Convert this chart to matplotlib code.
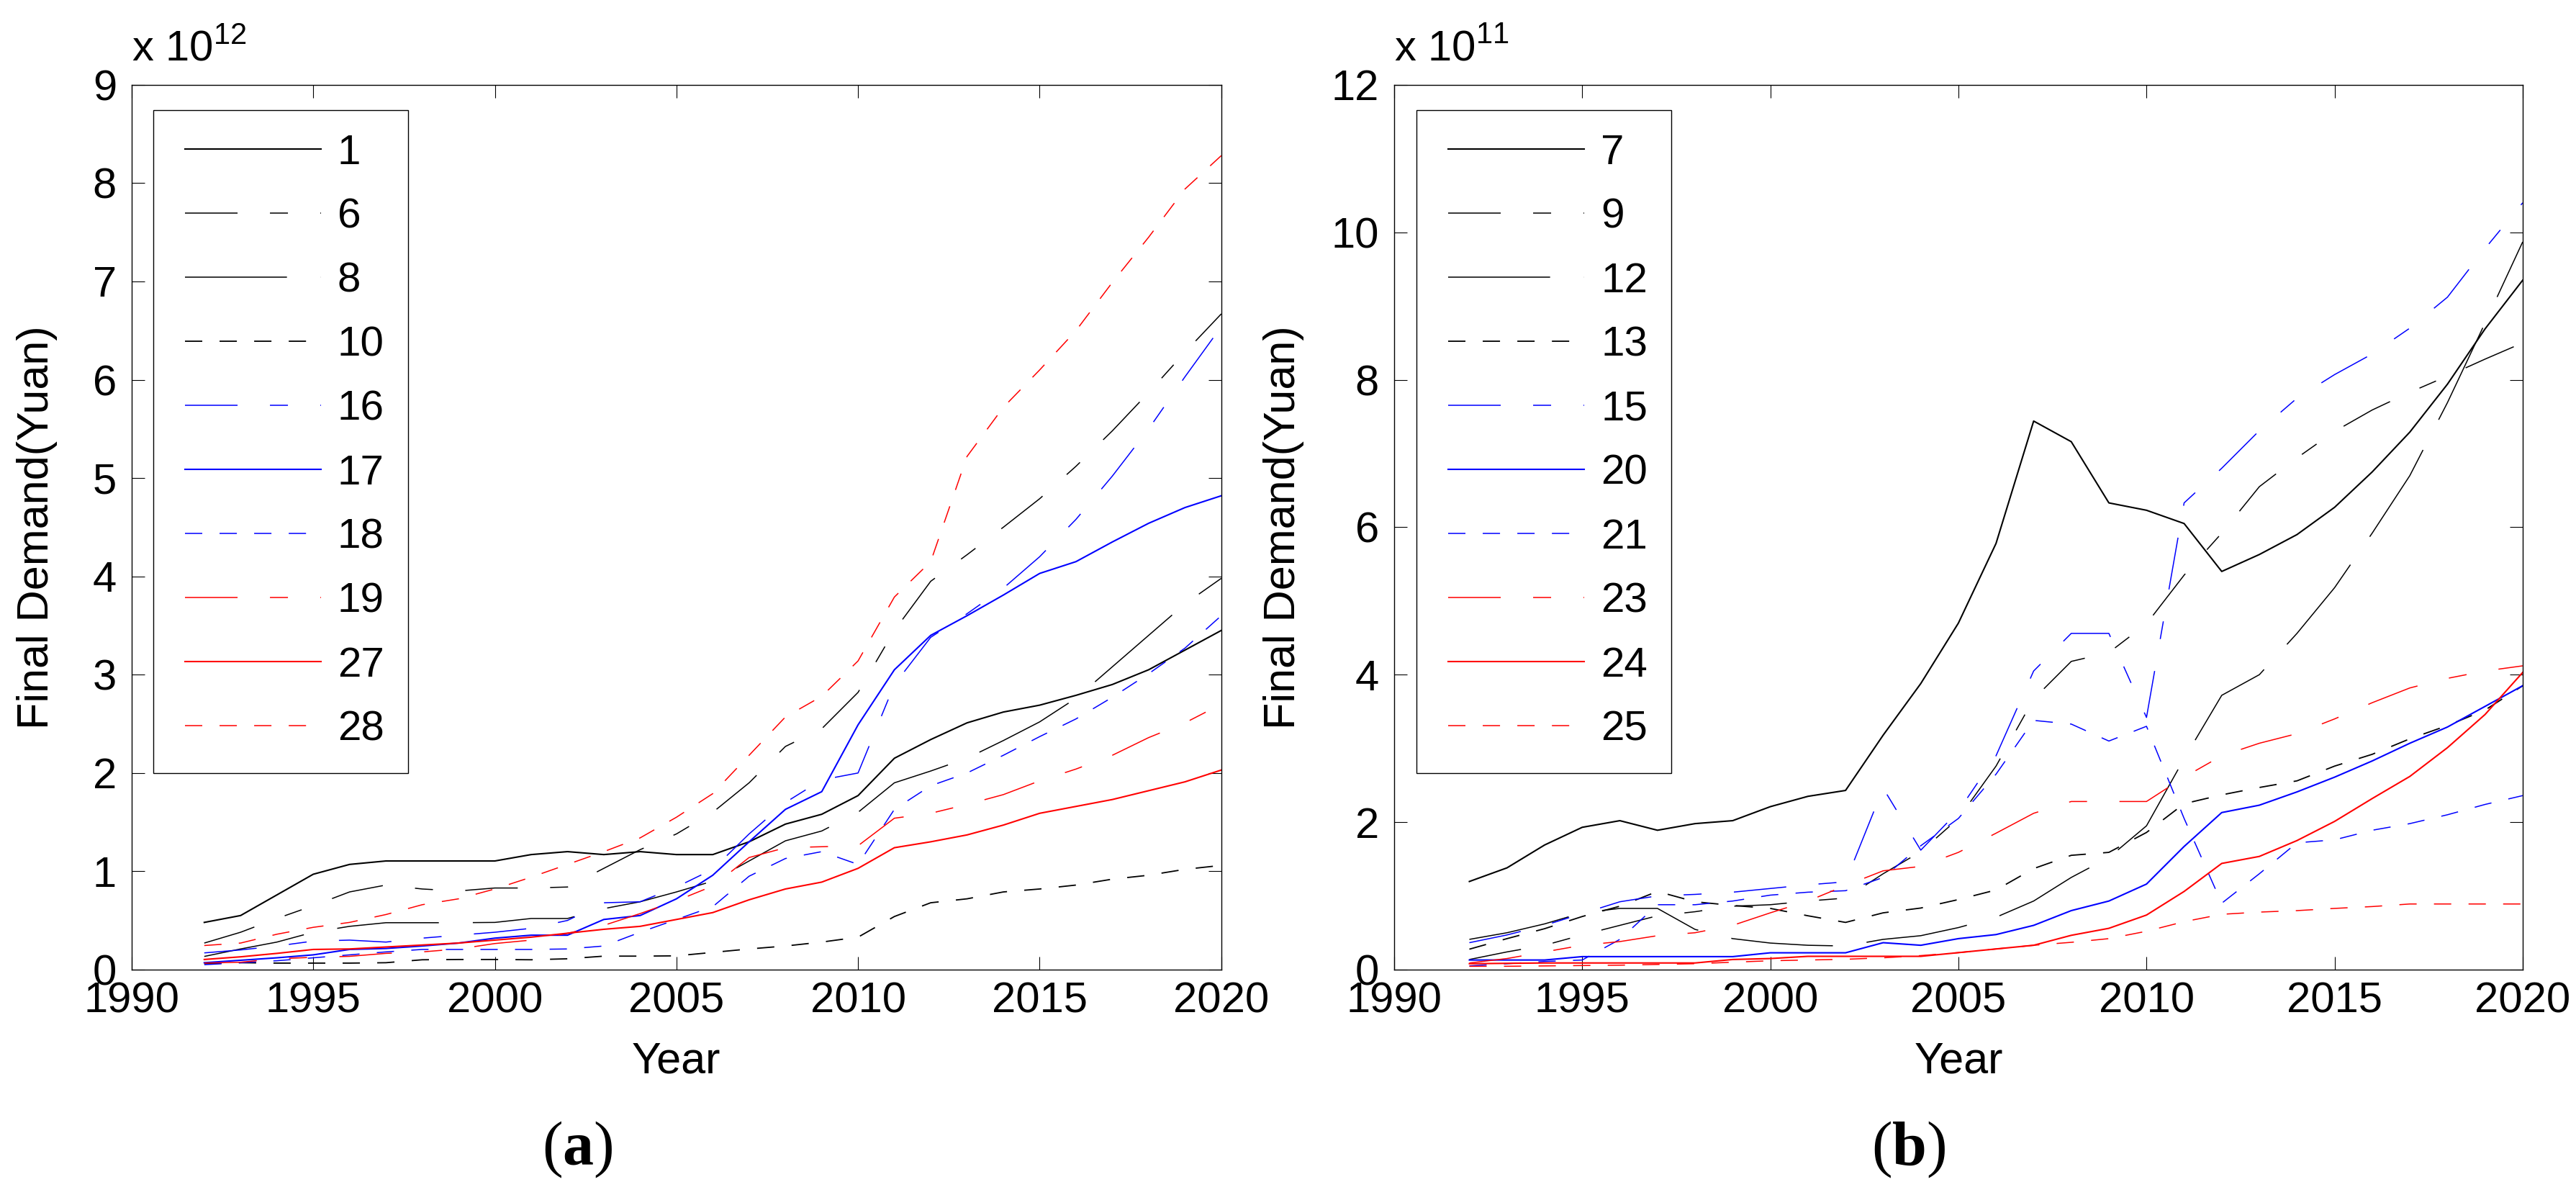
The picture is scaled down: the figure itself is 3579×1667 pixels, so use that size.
import matplotlib
matplotlib.use("Agg")
import matplotlib.pyplot as plt
from matplotlib.lines import Line2D
from matplotlib.legend_handler import HandlerLine2D

plt.rcParams['font.family'] = ['Liberation Sans', 'DejaVu Sans']
plt.rcParams['mathtext.fontset'] = 'custom'
plt.rcParams['mathtext.rm'] = 'Liberation Sans'
plt.rcParams['mathtext.bf'] = 'Liberation Serif:bold'
plt.rcParams['lines.scale_dashes'] = False

years = list(range(1992, 2021))

# (a) final demand, unit 1e12 yuan
labels_a = ["1", "6", "8", "10", "16", "17", "18", "19", "27", "28"]
a1 = [0.48, 0.55, 0.76, 0.97, 1.07, 1.105, 1.105, 1.105, 1.105, 1.17, 1.20, 1.17, 1.20, 1.17, 1.17,
      1.30, 1.48, 1.58, 1.77, 2.15, 2.34, 2.51, 2.62, 2.69, 2.79, 2.90, 3.05, 3.25, 3.45]
a6 = [0.27, 0.38, 0.52, 0.65, 0.79, 0.86, 0.82, 0.80, 0.83, 0.83, 0.84, 1.03, 1.22, 1.38, 1.60,
      1.90, 2.27, 2.45, 2.82, 3.45, 3.95, 4.22, 4.50, 4.79, 5.12, 5.48, 5.87, 6.28, 6.67]
a8 = [0.134, 0.21, 0.28, 0.38, 0.44, 0.477, 0.477, 0.477, 0.48, 0.52, 0.52, 0.62, 0.69, 0.79, 0.90,
      1.105, 1.31, 1.41, 1.60, 1.90, 2.02, 2.15, 2.33, 2.52, 2.76, 3.08, 3.40, 3.72, 3.98]
a10 = [0.06, 0.07, 0.066, 0.066, 0.066, 0.07, 0.10, 0.103, 0.103, 0.10, 0.11, 0.137, 0.137, 0.14, 0.175,
       0.21, 0.24, 0.28, 0.33, 0.54, 0.68, 0.72, 0.79, 0.82, 0.86, 0.92, 0.96, 1.02, 1.06]
a16 = [0.17, 0.20, 0.24, 0.29, 0.30, 0.28, 0.32, 0.35, 0.38, 0.42, 0.50, 0.68, 0.69, 0.84, 1.02,
       1.38, 1.70, 1.93, 2.00, 2.90, 3.38, 3.62, 3.88, 4.20, 4.58, 5.02, 5.50, 6.03, 6.54]
a17 = [0.07, 0.095, 0.12, 0.15, 0.205, 0.215, 0.24, 0.27, 0.32, 0.35, 0.35, 0.51, 0.55, 0.72, 0.96,
       1.30, 1.63, 1.81, 2.49, 3.05, 3.40, 3.60, 3.81, 4.03, 4.15, 4.35, 4.54, 4.70, 4.82]
a18 = [0.05, 0.07, 0.09, 0.12, 0.15, 0.18, 0.205, 0.205, 0.205, 0.205, 0.21, 0.24, 0.38, 0.51, 0.64,
       0.95, 1.13, 1.20, 1.07, 1.63, 1.87, 2.00, 2.18, 2.37, 2.55, 2.77, 3.01, 3.27, 3.60]
a19 = [0.066, 0.075, 0.11, 0.125, 0.135, 0.165, 0.18, 0.21, 0.265, 0.30, 0.37, 0.45, 0.57, 0.70, 0.85,
       1.14, 1.24, 1.25, 1.26, 1.54, 1.59, 1.68, 1.78, 1.92, 2.04, 2.18, 2.36, 2.51, 2.70]
a27 = [0.103, 0.13, 0.165, 0.205, 0.21, 0.23, 0.25, 0.27, 0.30, 0.33, 0.37, 0.41, 0.44, 0.51, 0.58,
       0.71, 0.82, 0.89, 1.03, 1.24, 1.30, 1.37, 1.47, 1.59, 1.66, 1.73, 1.82, 1.91, 2.03]
a28 = [0.245, 0.27, 0.36, 0.43, 0.48, 0.56, 0.66, 0.72, 0.82, 0.94, 1.07, 1.20, 1.34, 1.55, 1.79,
       2.18, 2.57, 2.78, 3.14, 3.79, 4.15, 5.22, 5.72, 6.10, 6.50, 6.99, 7.45, 7.94, 8.28]

# (b) final demand, unit 1e11 yuan
labels_b = ["7", "9", "12", "13", "15", "20", "21", "23", "24", "25"]
b7 = [1.195, 1.38, 1.69, 1.93, 2.02, 1.89, 1.98, 2.02, 2.21, 2.35, 2.43, 3.18, 3.88, 4.70, 5.78,
      7.44, 7.16, 6.33, 6.23, 6.05, 5.40, 5.63, 5.90, 6.27, 6.75, 7.29, 7.94, 8.69, 9.35]
b9 = [0.137, 0.24, 0.33, 0.47, 0.60, 0.73, 0.785, 0.86, 0.88, 0.93, 0.97, 1.30, 1.60, 2.05, 2.76,
      3.67, 4.18, 4.30, 4.69, 5.35, 5.92, 6.55, 6.94, 7.30, 7.59, 7.83, 8.05, 8.28, 8.50]
b12 = [0.41, 0.50, 0.62, 0.77, 0.83, 0.83, 0.545, 0.42, 0.36, 0.33, 0.32, 0.41, 0.46, 0.57, 0.71,
       0.93, 1.25, 1.52, 1.95, 2.86, 3.72, 4.00, 4.56, 5.18, 5.92, 6.70, 7.69, 8.77, 9.87]
b13 = [0.277, 0.42, 0.555, 0.72, 0.86, 1.06, 0.92, 0.87, 0.83, 0.73, 0.64, 0.77, 0.835, 0.95, 1.08,
       1.37, 1.55, 1.59, 1.86, 2.25, 2.37, 2.47, 2.56, 2.76, 2.92, 3.13, 3.31, 3.52, 3.85]
b15 = [0.365, 0.47, 0.60, 0.76, 0.92, 1.00, 1.02, 1.05, 1.10, 1.15, 1.19, 2.46, 1.62, 2.15, 2.90,
       4.05, 4.56, 4.56, 3.42, 6.33, 6.80, 7.31, 7.75, 8.07, 8.35, 8.70, 9.12, 9.78, 10.40]
b20 = [0.13, 0.13, 0.13, 0.176, 0.176, 0.176, 0.176, 0.176, 0.228, 0.228, 0.228, 0.365, 0.33, 0.42, 0.475,
       0.60, 0.80, 0.93, 1.16, 1.67, 2.13, 2.23, 2.41, 2.61, 2.83, 3.07, 3.29, 3.57, 3.85]
b21 = [0.05, 0.08, 0.11, 0.13, 0.41, 0.88, 0.88, 0.93, 1.01, 1.05, 1.07, 1.25, 1.68, 2.05, 2.65,
       3.38, 3.33, 3.10, 3.30, 2.05, 0.90, 1.30, 1.72, 1.76, 1.89, 1.98, 2.10, 2.24, 2.36]
b23 = [0.09, 0.15, 0.24, 0.33, 0.38, 0.46, 0.50, 0.60, 0.77, 0.93, 1.14, 1.34, 1.40, 1.59, 1.85,
       2.12, 2.28, 2.28, 2.28, 2.61, 2.90, 3.07, 3.20, 3.40, 3.62, 3.82, 3.95, 4.05, 4.12]
b24 = [0.08, 0.085, 0.09, 0.09, 0.09, 0.09, 0.09, 0.137, 0.15, 0.18, 0.18, 0.18, 0.18, 0.23, 0.28,
       0.33, 0.465, 0.56, 0.74, 1.06, 1.44, 1.535, 1.75, 2.01, 2.32, 2.62, 3.01, 3.46, 4.03]
b25 = [0.045, 0.045, 0.05, 0.055, 0.06, 0.07, 0.08, 0.10, 0.12, 0.13, 0.14, 0.16, 0.19, 0.23, 0.28,
       0.33, 0.37, 0.42, 0.52, 0.65, 0.75, 0.78, 0.80, 0.83, 0.855, 0.89, 0.89, 0.89, 0.89]

series_a = [a1, a6, a8, a10, a16, a17, a18, a19, a27, a28]
series_b = [b7, b9, b12, b13, b15, b20, b21, b23, b24, b25]

# matlab-like line styles (dash lengths in points)
DASHDOT = (0, (52.6, 32.4, 18, 32.4))
LONGDASH = (0, (102, 34))
DASHED = (0, (17.3, 17.3))
colors = ["k", "k", "k", "k", "b", "b", "b", "r", "r", "r"]
styles = ["-", DASHDOT, LONGDASH, DASHED, DASHDOT, "-", DASHED, DASHDOT, "-", DASHED]
widths = [1.5, 1.1, 1.1, 1.3, 1.1, 1.5, 1.1, 1.1, 1.5, 1.1]


def draw_panel(ax, series, labels, ymax, ystep, expo, ylab_x):
    for vals, lab, c, ls, lw in zip(series, labels, colors, styles, widths):
        ax.plot(years, vals, color=c, linestyle=ls, linewidth=lw, label=lab)
    ax.set_xlim(1990, 2020)
    ax.set_ylim(0, ymax)
    ax.set_xticks(range(1990, 2021, 5))
    ax.set_yticks(range(0, ymax + 1, ystep))
    ax.tick_params(direction='in', length=13, width=0.8, top=True, right=True, labelsize=43)
    ax.tick_params(axis='x', pad=12)
    ax.tick_params(axis='y', pad=15)
    for sp in ax.spines.values():
        sp.set_linewidth(1.0)
    ax.set_xlabel('Year', fontsize=44, labelpad=20)
    ax.set_ylabel('Final Demand(Yuan)', fontsize=44)
    ax.yaxis.set_label_coords(ylab_x, 0.5)
    ax.text(0.0, 1.027, r'x 10$^{\mathrm{%d}}$' % expo, transform=ax.transAxes,
            ha='left', va='baseline', fontsize=43)
    leg = ax.legend(loc='upper left', bbox_to_anchor=(0.02, 0.9715), borderaxespad=0,
                    borderpad=0.565, labelspacing=0.60, handlelength=3.43, handletextpad=0.39,
                    fancybox=False, edgecolor='k', framealpha=1, fontsize=42,
                    handler_map={Line2D: HandlerLine2D(xpad=0.19)})
    leg.get_frame().set_linewidth(1.0)


fig = plt.figure(figsize=(35.79, 16.67), dpi=100)
ax1 = fig.add_axes([0.0511, 0.192, 0.4230, 0.7373])
ax2 = fig.add_axes([0.5412, 0.192, 0.4381, 0.7373])

draw_panel(ax1, series_a, labels_a, 9, 1, 12, -0.068)
draw_panel(ax2, series_b, labels_b, 12, 2, 11, -0.0797)

fig.text(802 / 3579, 0.042, r'($\mathbf{a}$)', family='Liberation Serif', fontsize=62,
         ha='center', va='center')
fig.text(2652 / 3579, 0.042, r'($\mathbf{b}$)', family='Liberation Serif', fontsize=62,
         ha='center', va='center')

plt.savefig('out.png', dpi=100)
